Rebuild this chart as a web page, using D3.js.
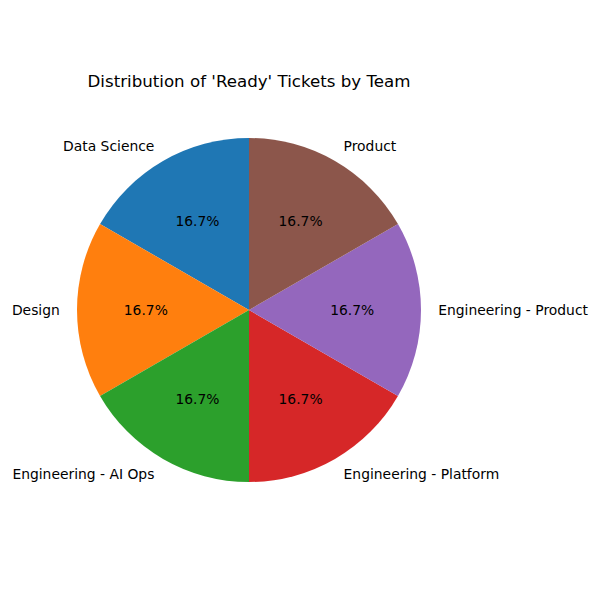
<!DOCTYPE html>
<html>
<head>
<meta charset="utf-8">
<script src="https://cdn.jsdelivr.net/npm/d3@7"></script>
<style>
  html, body { margin: 0; padding: 0; background: #fff; }
  svg { display: block; }
</style>
</head>
<body>
<svg id="chart" width="600" height="600"></svg>
<script>
const categories = ["Data Science", "Design", "Engineering - AI Ops", "Engineering - Platform", "Engineering - Product", "Product"];
const values = [1, 1, 1, 1, 1, 1];
const colors = ["#1f77b4", "#ff7f0e", "#2ca02c", "#d62728", "#9467bd", "#8c564b"];
const title = "Distribution of 'Ready' Tickets by Team";

const svg = d3.select("#chart");
const cx = 249, cy = 310, r = 172;
const font = "DejaVu Sans, sans-serif";

const data = categories.map((c, i) => ({ label: c, value: values[i], color: colors[i] }));
const total = d3.sum(values);

// counterclockwise from 12 o'clock, like matplotlib startangle=90
const pie = d3.pie().value(d => d.value).sort(null).startAngle(0).endAngle(-2 * Math.PI);
const arcs = pie(data);
const arc = d3.arc().innerRadius(0).outerRadius(r);

const g = svg.append("g").attr("transform", `translate(${cx},${cy})`);

g.selectAll("path.slice").data(arcs).enter().append("path")
  .attr("class", "slice")
  .attr("d", arc)
  .attr("fill", d => d.data.color);

function pos(d, k) {
  const a = (d.startAngle + d.endAngle) / 2;
  return [Math.sin(a) * r * k, -Math.cos(a) * r * k];
}

g.selectAll("text.label").data(arcs).enter().append("text")
  .attr("class", "label")
  .attr("x", d => pos(d, 1.1)[0])
  .attr("y", d => pos(d, 1.1)[1])
  .attr("text-anchor", d => pos(d, 1.1)[0] < 0 ? "end" : "start")
  .attr("dominant-baseline", "central")
  .attr("font-family", font)
  .attr("font-size", "13.89px")
  .attr("fill", "#000")
  .text(d => d.data.label);

g.selectAll("text.pct").data(arcs).enter().append("text")
  .attr("class", "pct")
  .attr("x", d => pos(d, 0.6)[0])
  .attr("y", d => pos(d, 0.6)[1])
  .attr("text-anchor", "middle")
  .attr("dominant-baseline", "central")
  .attr("font-family", font)
  .attr("font-size", "13.89px")
  .attr("fill", "#000")
  .text(d => (d.data.value / total * 100).toFixed(1) + "%");

svg.append("text")
  .attr("x", cx)
  .attr("y", 81)
  .attr("text-anchor", "middle")
  .attr("dominant-baseline", "central")
  .attr("font-family", font)
  .attr("font-size", "16.67px")
  .attr("fill", "#000")
  .text(title);
</script>
</body>
</html>
